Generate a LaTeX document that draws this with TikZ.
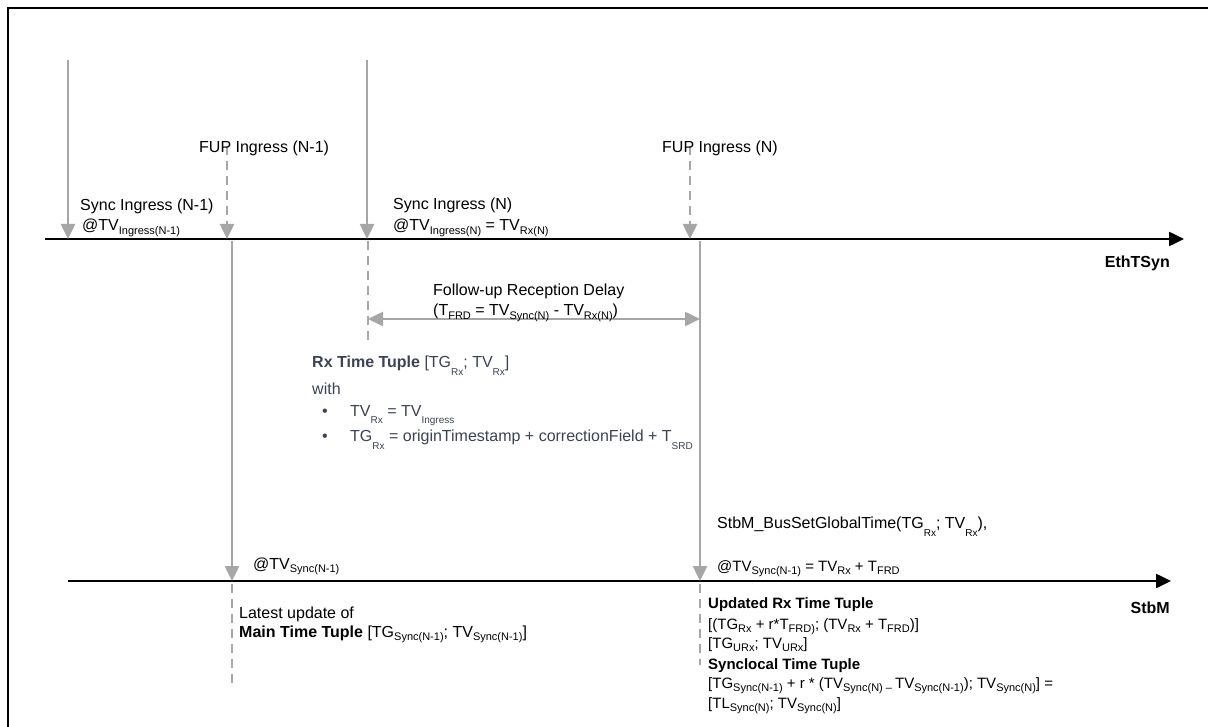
\documentclass[tikz,border=0pt]{standalone}
\usepackage{fontspec}
\setmainfont{Liberation Sans}
\usetikzlibrary{arrows.meta}
\definecolor{axisgray}{RGB}{166,166,166}
\definecolor{slate}{RGB}{58,68,86}
% small subscripts: slightly lowered, and deeply lowered
\newcommand{\lowsub}[1]{\raisebox{-0.2em}{\fontsize{11}{11}\selectfont #1}}
\newcommand{\deepsub}[1]{\raisebox{-0.5em}{\fontsize{10}{10}\selectfont #1}}
\begin{document}
\begin{tikzpicture}[x=1pt,y=-1pt,
  txt/.style={inner sep=0pt,anchor=base west,font=\fontsize{16}{19}\selectfont},
  txtr/.style={inner sep=0pt,anchor=base east,font=\fontsize{16}{19}\selectfont\bfseries},
  txts/.style={inner sep=0pt,anchor=base west,font=\fontsize{15}{18}\selectfont},
  rxtxt/.style={txt,text=slate},
  timeline/.style={draw=black,line width=2.5pt,-{Triangle[length=15pt,width=14pt]}},
  event/.style={draw=axisgray,line width=2.5pt,-{Triangle[length=15pt,width=14pt]}},
  eventdash/.style={event,dash pattern=on 9pt off 6pt},
  guide/.style={draw=axisgray,line width=2pt,dash pattern=on 9pt off 6pt},
  span/.style={draw=axisgray,line width=2.5pt,{Triangle[length=15pt,width=14pt]}-{Triangle[length=15pt,width=14pt]}}]
\useasboundingbox (0,0) rectangle (1208,727);
\fill[white] (0,0) rectangle (1208,727);
% outer frame
\draw[line width=2.5pt] (8,760) -- (8,8) -- (1240,8);

% time axes
\coordinate (ethL) at (45,239);
\coordinate (ethR) at (1184,239);
\coordinate (stbL) at (68,581);
\coordinate (stbR) at (1171,581);
\draw[timeline] (ethL) -- (ethR);
\draw[timeline] (stbL) -- (stbR);
\node[txtr] (eth) at (1170,268) {EthTSyn};
\node[txtr] (stbm) at (1170,613) {StbM};

% event positions
\coordinate (syncA0) at (68,60);   \coordinate (syncA1) at (68,239);
\coordinate (fupA0) at (227,146);  \coordinate (fupA1) at (227,239);
\coordinate (syncB0) at (367,60);  \coordinate (syncB1) at (367,239);
\coordinate (fupB0) at (690,146);  \coordinate (fupB1) at (690,239);
\coordinate (updA0) at (232,241);  \coordinate (updA1) at (232,581);
\coordinate (updB0) at (700,241);  \coordinate (updB1) at (700,581);
\coordinate (gA0) at (368,241);    \coordinate (gA1) at (368,342);
\coordinate (gB0) at (232,584);    \coordinate (gB1) at (232,686);
\coordinate (gC0) at (700,584);    \coordinate (gC1) at (700,665);
\coordinate (frdL) at (368,319);   \coordinate (frdR) at (700,319);

\draw[event] (syncA0) -- (syncA1);
\draw[eventdash] (fupA0) -- (fupA1);
\draw[event] (syncB0) -- (syncB1);
\draw[eventdash] (fupB0) -- (fupB1);
\draw[event] (updA0) -- (updA1);
\draw[event] (updB0) -- (updB1);
\draw[guide] (gA0) -- (gA1);
\draw[guide] (gB0) -- (gB1);
\draw[guide] (gC0) -- (gC1);
\draw[span] (frdL) -- (frdR);

% EthTSyn labels
\node[txt] (fupAl) at (199,153) {FUP Ingress (N-1)};
\node[txt] (fupBl) at (662,153) {FUP Ingress (N)};
\node[txt] (syncAl) at (80,211) {Sync Ingress (N-1)};
\node[txt] (syncAt) at (82,231) {@TV\lowsub{Ingress(N-1)}};
\node[txt] (syncBl) at (393,210) {Sync Ingress (N)};
\node[txt] (syncBt) at (393,231) {@TV\lowsub{Ingress(N)} = TV\lowsub{Rx(N)}};

% follow-up reception delay
\node[txt] (frd1) at (433,296) {Follow-up Reception Delay};
\node[txt] (frd2) at (433,316) {(T\lowsub{FRD} = TV\lowsub{Sync(N)} - TV\lowsub{Rx(N)})};

% Rx time tuple
\node[rxtxt] (rx1) at (312,368) {\textbf{Rx Time Tuple} [TG\deepsub{Rx}; TV\deepsub{Rx}]};
\node[rxtxt] (rx2) at (312,395) {with};
\node[rxtxt] (rxb1) at (322,416) {\textbullet};
\node[rxtxt] (rx3) at (350,416) {TV\deepsub{Rx} = TV\deepsub{Ingress}};
\node[rxtxt] (rxb2) at (322,441) {\textbullet};
\node[rxtxt] (rx4) at (350,441) {TG\deepsub{Rx} = originTimestamp + correctionField + T\deepsub{SRD}};

% StbM labels, left
\node[txt] (mainAt) at (253,569) {@TV\lowsub{Sync(N-1)}};
\node[txt] (main1) at (239,618) {Latest update of};
\node[txt] (main2) at (239,637) {\textbf{Main Time Tuple} [TG\lowsub{Sync(N-1)}; TV\lowsub{Sync(N-1)}]};

% StbM labels, right
\node[txt] (bus1) at (717,528) {StbM\_BusSetGlobalTime(TG\deepsub{Rx}; TV\deepsub{Rx}),};
\node[txts] (bus2) at (717,571) {@TV\lowsub{Sync(N-1)} = TV\lowsub{Rx} + T\lowsub{FRD}};
\node[txts] (urx1) at (708,608) {\textbf{Updated Rx Time Tuple}};
\node[txts] (urx2) at (708,629) {[(TG\lowsub{Rx} + r*T\lowsub{FRD)}; (TV\lowsub{Rx} + T\lowsub{FRD})]};
\node[txts] (urx3) at (708,648) {[TG\lowsub{URx}; TV\lowsub{URx}]};
\node[txts] (sl1) at (708,669) {\textbf{Synclocal Time Tuple}};
\node[txts] (sl2) at (708,688) {[TG\lowsub{Sync(N-1)} + r * (TV\lowsub{Sync(N) -- }TV\lowsub{Sync(N-1)}); TV\lowsub{Sync(N)}] =};
\node[txts] (sl3) at (708,708) {[TL\lowsub{Sync(N)}; TV\lowsub{Sync(N)}]};
\end{tikzpicture}
\end{document}
